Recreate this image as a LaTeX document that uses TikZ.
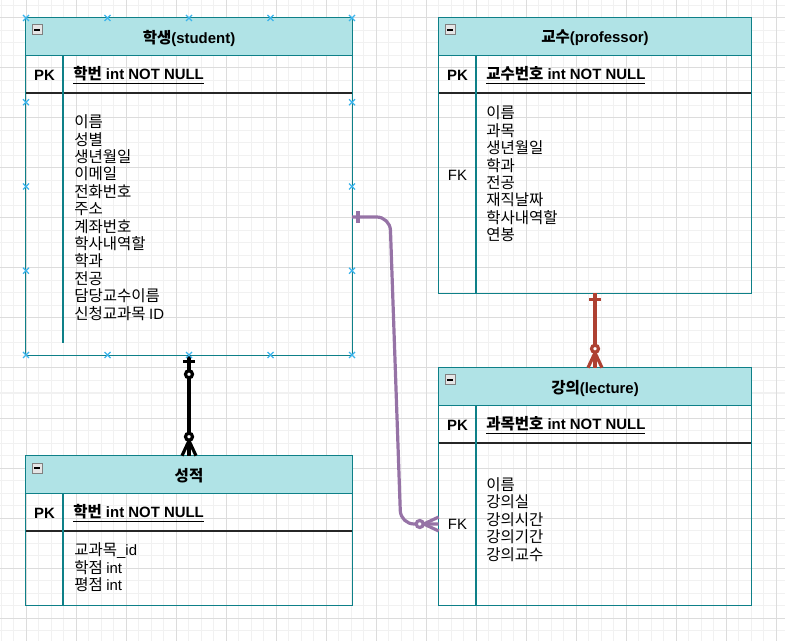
\documentclass[tikz,border=0pt]{standalone}
\usepackage{fontspec}
\setmainfont{Liberation Sans}
\newfontfamily\krfont[Scale=1.04]{Noto Sans CJK KR}
\newcommand{\kr}[1]{{\krfont #1}}
\newcommand{\en}[1]{{\rmfamily #1}}
\usetikzlibrary{fit,calc}

\definecolor{tealline}{HTML}{0E8088}
\definecolor{headfill}{HTML}{B0E3E6}
\definecolor{relred}{HTML}{AE4132}
\definecolor{relpurple}{HTML}{9673A6}
\definecolor{handleblue}{HTML}{3BB4EC}
\definecolor{gridminor}{HTML}{F1F1F1}
\definecolor{gridmajor}{HTML}{DCDCDC}

% name, left, top, right, bottom, divider end, title
\newcommand{\ertable}[7]{%
  \node[tablebox, fit={(#2,#3) (#4,#5)}] (#1) {};
  \fill[headfill] (#2,#3) rectangle (#4,#3+37.5);
  \draw[keyline] (#2,#3+75) -- (#4,#3+75);
  \draw[frame] (#2,#3+37.5) -- (#4,#3+37.5) (#2+37,#3+37.5) -- (#2+37,#6);
  \draw[frame] (#1.north west) rectangle (#1.south east);
  \draw[gray, fill=gray!20, line width=0.75pt] (#2+6,#3+7) rectangle ++(10,10);
  \draw[line width=1pt] (#2+8,#3+12) -- ++(6,0);
  \node[titletext] (#1-title) at (#2/2+#4/2,#3+20) {#7};
  \node[pktext] (#1-pk) at (#2+18.5,#3+57) {PK};
}

\begin{document}
\begin{tikzpicture}[x=0.75pt, y=-0.75pt,
    tablebox/.style={inner sep=0pt, draw=none},
    frame/.style={draw=tealline, line width=1pt},
    keyline/.style={draw=black!85, line width=1pt},
    titletext/.style={font=\bfseries\fontsize{11.2}{12}\selectfont},
    pktext/.style={font=\bfseries\fontsize{11.2}{12}\selectfont},
    keytext/.style={anchor=west, inner sep=0pt, font=\bfseries\fontsize{11.2}{12}\selectfont},
    bodytext/.style={anchor=west, inner sep=0pt, align=left,
      font=\krfont\fontsize{11.2}{13.05}\selectfont},
    fktext/.style={font=\fontsize{11.2}{12}\selectfont},
    relline/.style={line width=2.4pt},
    erbar/.pic={\draw (-6,6) -- (6,6);},
    erring/.pic={\draw[fill=white] (0,19) circle[radius=3.5];},
    ercrow/.pic={\draw[line join=round] (-7,0) -- (0,15) -- (7,0);},
    handle/.pic={\draw[handleblue, line width=1pt] (-3,-3) -- (3,3) (-3,3) -- (3,-3);}]

  \useasboundingbox (0,0) rectangle (785,641);
  \foreach \gx in {1,13.5,...,785} \draw[gridminor, line width=0.75pt] (\gx,0) -- (\gx,641);
  \foreach \gy in {5.5,18,...,641} \draw[gridminor, line width=0.75pt] (0,\gy) -- (785,\gy);
  \foreach \gx in {26,76,...,785} \draw[gridmajor, line width=0.75pt] (\gx,0) -- (\gx,641);
  \foreach \gy in {18,68,...,641} \draw[gridmajor, line width=0.75pt] (0,\gy) -- (785,\gy);

  \ertable{student}{26}{18}{352}{355}{343}{\kr{학생}(student)}
  \ertable{professor}{439}{18}{751}{293}{293}{\kr{교수}(professor)}
  \ertable{lecture}{439}{368}{751}{605}{605}{\kr{강의}(lecture)}
  \ertable{score}{26}{456}{352}{605}{605}{\kr{성적}}

  \node[keytext] (student-key) at (73,75) {\underline{\kr{학번} int NOT NULL}};
  \node[keytext] (professor-key) at (486,75) {\underline{\kr{교수번호} int NOT NULL}};
  \node[keytext] (lecture-key) at (486,425) {\underline{\kr{과목번호} int NOT NULL}};
  \node[keytext] (score-key) at (73,513) {\underline{\kr{학번} int NOT NULL}};

  \node[bodytext] (student-body) at (74,217.5) {이름\\성별\\생년월일\\이메일\\전화번호\\주소\\계좌번호\\학사내역할\\학과\\전공\\담당교수이름\\신청교과목 \en{ID}};
  \node[bodytext] (professor-body) at (486,174) {이름\\과목\\생년월일\\학과\\전공\\재직날짜\\학사내역할\\연봉};
  \node[bodytext] (lecture-body) at (486,519.5) {이름\\강의실\\강의시간\\강의기간\\강의교수};
  \node[bodytext] (score-body) at (74,567.5) {교과목\en{\_id}\\학점 \en{int}\\평점 \en{int}};
  \node[fktext] (professor-fk) at (457.5,175) {FK};
  \node[fktext] (lecture-fk) at (457.5,524) {FK};

  \coordinate (student-fk) at (352,217);

  \draw[relline, black] (student.south) -- (score.north);
  \pic[relline, black] at (student.south) {erbar};
  \pic[relline, black] at (student.south) {erring};
  \pic[relline, black, rotate=180] at (score.north) {ercrow};
  \pic[relline, black, rotate=180] at (score.north) {erring};

  \draw[relline, relred] (professor.south) -- (lecture.north);
  \pic[relline, relred] at (professor.south) {erbar};
  \pic[relline, relred, rotate=180] at (lecture.north) {ercrow};
  \pic[relline, relred, rotate=180] at (lecture.north) {erring};

  \draw[relline, relpurple, rounded corners=10pt] (student-fk) -- ++(38,0)
    -- ($(lecture.west |- lecture-fk)+(-38,0)$) -- (lecture.west |- lecture-fk);
  \pic[relline, relpurple, rotate=90] at (student-fk) {erbar};
  \pic[relline, relpurple, rotate=-90] at (lecture.west |- lecture-fk) {ercrow};
  \pic[relline, relpurple, rotate=-90] at (lecture.west |- lecture-fk) {erring};

  \foreach \hx in {26,107.5,189,270.5,352}
    \foreach \hy in {18,355} \pic at (\hx,\hy) {handle};
  \foreach \hy in {102.25,186.5,270.75}
    \foreach \hx in {26,352} \pic at (\hx,\hy) {handle};
\end{tikzpicture}
\end{document}
